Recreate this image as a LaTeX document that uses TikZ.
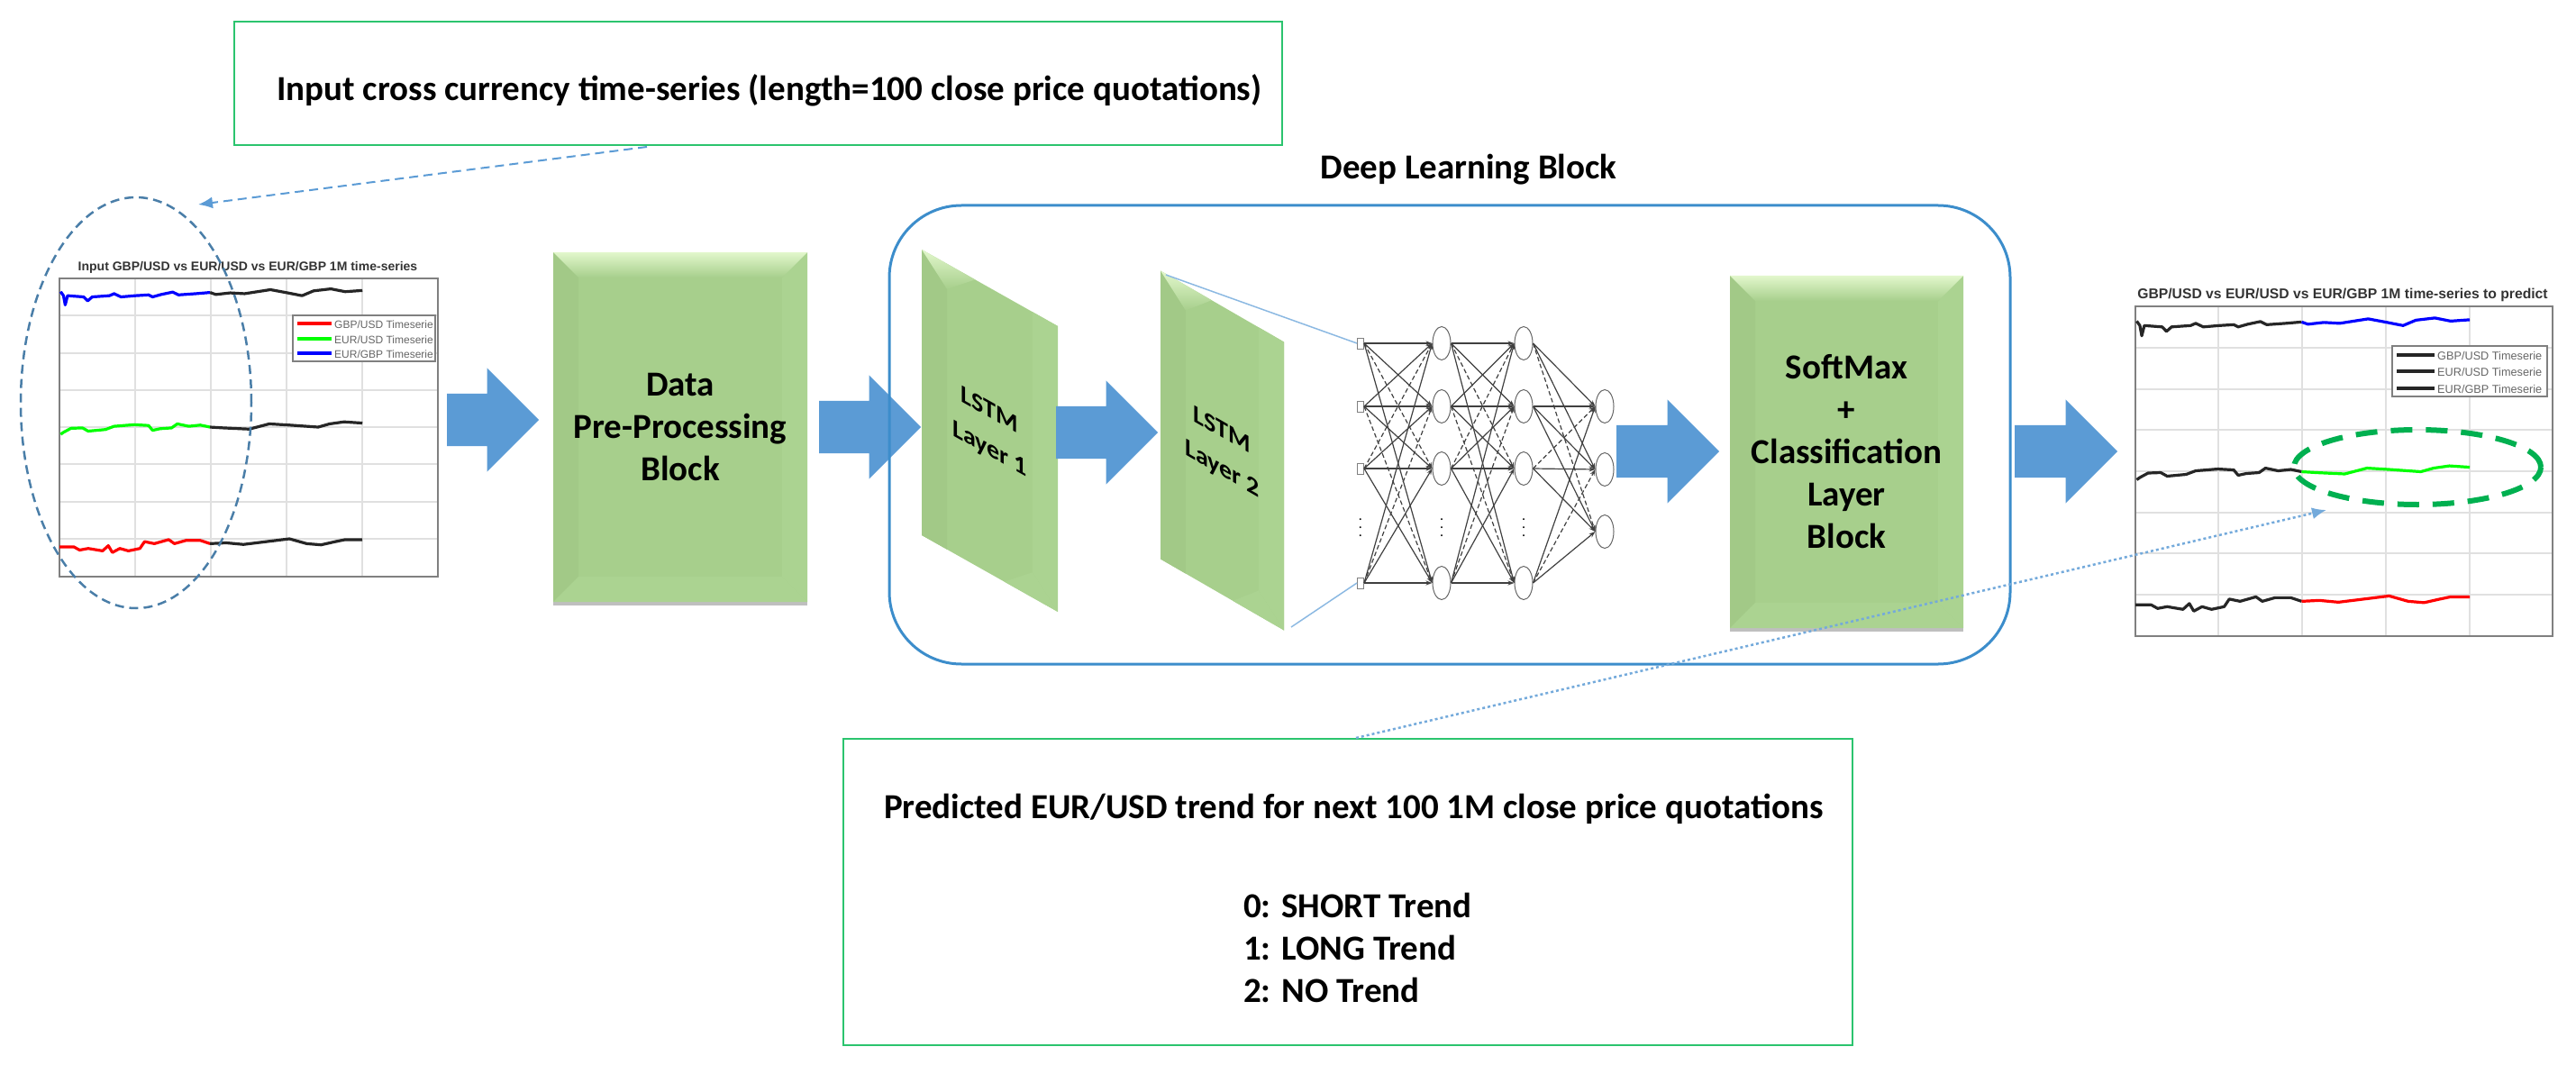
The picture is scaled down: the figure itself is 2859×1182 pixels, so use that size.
\documentclass[tikz,border=0pt]{standalone}
\usepackage{fontspec}
\setmainfont{Carlito}
\newfontfamily\chartfont{Liberation Sans}
\usetikzlibrary{positioning,calc,arrows.meta,shapes.arrows,shapes.geometric,shadows}

\definecolor{arrowblue}{HTML}{5B9BD5}
\definecolor{frameblue}{HTML}{3C8DCB}
\definecolor{ellipseblue}{HTML}{4A7EA8}
\definecolor{notegreen}{HTML}{2BC46E}
\definecolor{markgreen}{HTML}{00B050}
\definecolor{blockgreen}{HTML}{A7CF8C}
\definecolor{blocklight}{HTML}{E2F7CC}
\definecolor{blockdark}{HTML}{A2C987}
\definecolor{blockedge}{HTML}{ABD391}

\tikzset{
  bigtext/.style={font=\fontsize{39}{47}\selectfont\bfseries, inner sep=0pt},
  notebox/.style={draw=notegreen, line width=2.5pt, rectangle, inner sep=0pt},
  blockarrow/.style={single arrow, fill=arrowblue, minimum height=#1, text height=58pt, text depth=0pt, text width=0pt,
    single arrow head extend=28.5pt, single arrow tip angle=90, inner sep=0pt, anchor=tail},
  bevelblock/.style={rectangle, fill=blockgreen, align=center, inner sep=0pt,
    path picture={
      \coordinate (nw) at (path picture bounding box.north west);
      \coordinate (ne) at (path picture bounding box.north east);
      \coordinate (sw) at (path picture bounding box.south west);
      \coordinate (se) at (path picture bounding box.south east);
      \fill[blockdark] (nw) -- ($(nw)+(28,28)$) -- ($(sw)+(28,-28)$) -- (sw) -- cycle;
      \fill[blockedge] (ne) -- ($(ne)+(-28,28)$) -- ($(se)+(-28,-28)$) -- (se) -- cycle;
      \fill[blockedge] (sw) -- ($(sw)+(28,-28)$) -- ($(se)+(-28,-28)$) -- (se) -- cycle;
      \shade[top color=blocklight, bottom color=blockgreen]
        (nw) -- ($(nw)+(28,28)$) -- ($(ne)+(-28,28)$) -- (ne) -- cycle;
    }},
  flatblock/.style={bevelblock, drop shadow={shadow xshift=0pt, shadow yshift=-4pt, opacity=.25, fill=black}},
  netinput/.style={draw=gray, line width=1pt, rectangle, minimum width=7pt, minimum height=12pt, inner sep=0pt},
  netnode/.style={draw=gray!80!black, line width=1pt, ellipse, fill=white, minimum width=20pt, minimum height=37pt, inner sep=0pt},
  netedge/.style={draw=black!75, line width=1.2pt, -{Stealth[length=7pt,width=5pt]}},
  netdash/.style={netedge, dash pattern=on 5pt off 3pt},
  netdots/.style={font=\fontsize{16}{9}\selectfont, inner sep=0pt, align=center},
  chartgrid/.style={draw=black!12, line width=1.6pt},
  chartaxis/.style={draw=black!50, line width=2pt},
  chartline/.style={line width=3.2pt, line join=round},
  charttitle/.style={font=\chartfont\bfseries, text=black!80, inner sep=0pt},
  chartkey/.style={font=\chartfont, text=black!60, inner sep=0pt, anchor=west},
}

% series, in the axes of the left chart
\def\toppast{(2,33)(7,43)(10,66)(14,43)(42,46)(49,56)(57,46)(87,43)(95,38)(107,46)(132,43)(155,41)(162,46)(177,40)(197,34)(207,41)(237,38)(262,35)}
\def\topnext{(262,35)(272,40)(297,36)(322,38)(367,28)(397,36)(422,43)(442,31)(472,26)(497,33)(527,30)}
\def\midpast{(2,388)(7,383)(20,373)(40,372)(50,380)(80,376)(95,368)(130,364)(155,366)(162,378)(175,374)(195,372)(205,362)(225,368)(245,365)(262,370)}
\def\midnext{(262,370)(285,372)(330,375)(365,362)(400,365)(450,370)(470,362)(495,357)(527,360)}
\def\lowpast{(0,668)(25,668)(35,676)(50,672)(75,678)(85,665)(92,682)(105,672)(120,678)(140,672)(148,655)(165,660)(190,650)(200,660)(220,652)(245,652)(262,660)}
\def\lownext{(262,660)(290,658)(320,662)(360,655)(400,648)(430,660)(455,663)(480,655)(497,650)(527,650)}

\begin{document}
\begin{tikzpicture}[x=1pt,y=-1pt]
  \useasboundingbox (0,0) rectangle (2859,1182);

  % left chart
  \node[charttitle, font=\chartfont\bfseries\fontsize{14}{16}\selectfont] (lefttitle) at (275,297) {Input GBP/USD vs EUR/USD vs EUR/GBP 1M time-series};
  \foreach \gx in {150,234,318,402} \draw[chartgrid] (\gx,309) -- (\gx,640);
  \foreach \gy in {350,392,433,474,515,557,598} \draw[chartgrid] (66,\gy) -- (486,\gy);
  \draw[chartaxis] (66,309) rectangle (486,640);
  \begin{scope}[shift={(66,309)},x=.638pt,y=-.446pt]
    \draw[chartline,blue] plot coordinates {\toppast};
    \draw[chartline,green] plot coordinates {\midpast};
    \draw[chartline,red] plot coordinates {\lowpast};
    \draw[chartline,black!85] plot coordinates {\topnext};
    \draw[chartline,black!85] plot coordinates {\midnext};
    \draw[chartline,black!85] plot coordinates {\lownext};
  \end{scope}
  \draw[chartaxis,fill=white] (325,350) rectangle (483,401);
  \foreach \ky/\kc in {359/red,376/green,392/blue} {
    \draw[chartline,\kc] (330,\ky) -- (368,\ky);
  }
  \node[chartkey, font=\chartfont\fontsize{12}{14}\selectfont] (leftkeya) at (371,360) {GBP/USD Timeserie};
  \node[chartkey, font=\chartfont\fontsize{12}{14}\selectfont] (leftkeyb) at (371,377) {EUR/USD Timeserie};
  \node[chartkey, font=\chartfont\fontsize{12}{14}\selectfont] (leftkeyc) at (371,393) {EUR/GBP Timeserie};

  \node[draw=ellipseblue, line width=2.5pt, dash pattern=on 10pt off 6pt, ellipse, minimum width=256pt, minimum height=456pt] (inputmark) at (151,447) {};

  % note boxes
  \node[notebox, minimum width=1163pt, minimum height=137pt] (inputnote) at (841.5,92.5) {};
  \node[bigtext, anchor=west] (inputtext) at (307,100) {Input cross currency time-series (length=100 close price quotations)};
  \node[notebox, minimum width=1120pt, minimum height=340pt] (outputnote) at (1496,990) {};
  \node[bigtext, anchor=west] (outputtext) at (981,898) {Predicted EUR/USD trend for next 100 1M close price quotations};
  \node[bigtext, anchor=north west, align=left] (trendlist) at (1380,991) {0: SHORT Trend\\1: LONG Trend\\2: NO Trend};

  % blocks
  \node[flatblock, bigtext, align=center, minimum width=282pt, minimum height=388pt] (preblock) at (755,474) {Data\\Pre-Processing\\Block};
  \node[blockarrow=102pt] (arrowa) at (496,466) {};
  \node[blockarrow=113pt] (arrowb) at (909,474) {};

  \node[bevelblock, transform shape, yslant=-.563, font=\fontsize{28}{43}\selectfont\bfseries, minimum width=151pt, minimum height=317pt] (lstma) at (1098.5,478) {LSTM\\Layer 1};
  \node[bevelblock, transform shape, yslant=-.577, font=\fontsize{28}{43}\selectfont\bfseries, minimum width=137pt, minimum height=320pt] (lstmb) at (1356.5,500) {LSTM\\Layer 2};
  \node[blockarrow=113pt] (arrowc) at (1172,480) {};

  \node[bigtext] (deeptitle) at (1630,188) {Deep Learning Block};
  \node[draw=frameblue, line width=3pt, rounded corners=80pt, minimum width=1244pt, minimum height=509pt, inner sep=0pt] (deepframe) at (1609,482.5) {};

  % network
  \foreach \row/\ny in {1/381,2/451,3/520,4/647} {
    \node[netinput] (in\row) at (1510,\ny) {};
    \node[netnode] (ha\row) at (1600,\ny) {};
    \node[netnode] (hb\row) at (1691,\ny) {};
  }
  \foreach \row/\ny in {1/451,2/521,3/590} \node[netnode] (out\row) at (1781,\ny) {};
  \foreach \nx in {1510,1600,1691} \node[netdots] at (\nx,586) {.\\.\\.};
  \foreach \i in {1,2,3,4} \foreach \j in {1,2,3,4} {
    \pgfmathtruncatemacro{\gap}{abs(\i-\j)}
    \ifnum\gap=2
      \draw[netdash] (in\i.east) -- (ha\j.west);
      \draw[netdash] (ha\i.east) -- (hb\j.west);
    \else
      \draw[netedge] (in\i.east) -- (ha\j.west);
      \draw[netedge] (ha\i.east) -- (hb\j.west);
    \fi
  }
  \foreach \i in {1,2,3,4} \foreach \j in {1,2,3} {
    \pgfmathtruncatemacro{\gap}{abs(\i-\j)}
    \ifnum\gap=2
      \draw[netdash] (hb\i.east) -- (out\j.west);
    \else
      \draw[netedge] (hb\i.east) -- (out\j.west);
    \fi
  }
  \coordinate (zoomtopa) at (1294,305);
  \coordinate (zoomlowa) at (1433,696);
  \draw[arrowblue!70, line width=1.5pt] (zoomtopa) -- (in1.west);
  \draw[arrowblue!70, line width=1.5pt] (zoomlowa) -- (in4.west);

  \node[blockarrow=114pt] (arrowd) at (1794,501) {};
  \node[flatblock, bigtext, align=center, minimum width=259pt, minimum height=391pt] (softblock) at (2049.5,501.5) {SoftMax\\+\\Classification\\Layer\\Block};
  \node[blockarrow=114pt] (arrowe) at (2236,501) {};

  % right chart
  \node[charttitle, font=\chartfont\bfseries\fontsize{15.7}{18}\selectfont] (righttitle) at (2600,327) {GBP/USD vs EUR/USD vs EUR/GBP 1M time-series to predict};
  \foreach \gx in {2462,2555,2648,2741} \draw[chartgrid] (\gx,340) -- (\gx,706);
  \foreach \gy in {386,432,477,523,569,614,660} \draw[chartgrid] (2370,\gy) -- (2833,\gy);
  \draw[chartaxis] (2370,340) rectangle (2833,706);
  \begin{scope}[shift={(2370,340)},x=.704pt,y=-.496pt]
    \draw[chartline,black!85] plot coordinates {\toppast};
    \draw[chartline,black!85] plot coordinates {\midpast};
    \draw[chartline,black!85] plot coordinates {\lowpast};
    \draw[chartline,blue] plot coordinates {\topnext};
    \draw[chartline,green] plot coordinates {\midnext};
    \draw[chartline,red] plot coordinates {\lownext};
  \end{scope}
  \draw[chartaxis,fill=white] (2655,384) rectangle (2827,440);
  \foreach \ky in {394,412,431} \draw[chartline,black!85] (2660,\ky) -- (2702,\ky);
  \node[chartkey, font=\chartfont\fontsize{12.7}{16}\selectfont] (rightkeya) at (2705,395) {GBP/USD Timeserie};
  \node[chartkey, font=\chartfont\fontsize{12.7}{16}\selectfont] (rightkeyb) at (2705,413) {EUR/USD Timeserie};
  \node[chartkey, font=\chartfont\fontsize{12.7}{16}\selectfont] (rightkeyc) at (2705,432) {EUR/GBP Timeserie};

  \node[draw=markgreen, line width=6pt, dash pattern=on 24pt off 15pt, ellipse, minimum width=274pt, minimum height=83pt, inner sep=0pt] (trendmark) at (2683,518.5) {};

  % callouts
  \coordinate (inputfrom) at (718,163);
  \coordinate (inputtip) at (220,227);
  \draw[arrowblue, line width=2pt, dash pattern=on 10pt off 6pt, -{Latex[length=16pt,width=13pt]}] (inputfrom) -- (inputtip);
  \coordinate (trendfrom) at (1505,819);
  \coordinate (trendtip) at (2582,566);
  \draw[arrowblue!85, line width=2.5pt, dash pattern=on 3pt off 3pt, -{Latex[length=16pt,width=13pt]}] (trendfrom) -- (trendtip);
\end{tikzpicture}
\end{document}
